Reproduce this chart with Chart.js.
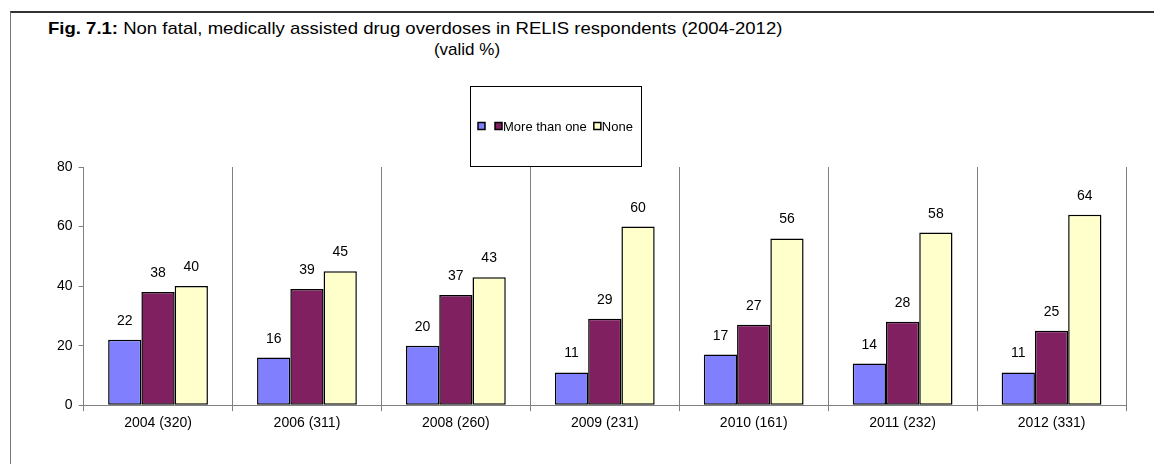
<!DOCTYPE html>
<html>
<head>
<meta charset="utf-8">
<script src="https://cdn.jsdelivr.net/npm/chart.js@4/dist/chart.umd.min.js"></script>
<style>
  html, body { margin: 0; padding: 0; background: #fff; }
  #wrap { position: relative; width: 1154px; height: 464px; overflow: hidden; font-family: Arial, "Liberation Sans", sans-serif; color: #000; }
  #frame { position: absolute; left: 10px; top: 11px; width: 1200px; height: 500px; border-top: 2px solid #333; border-left: 1px solid #777; }
  #t1 { position: absolute; left: 48px; top: 19px; font-size: 17px; white-space: nowrap; transform: scaleX(1.09); transform-origin: left top; }
  #t2 { position: absolute; left: 0; width: 934px; top: 40px; font-size: 17px; text-align: center; }
  #c { position: absolute; left: 0; top: 0; }
</style>
</head>
<body>
<div id="wrap">
  <div id="frame"></div>
  <div id="t1"><b>Fig. 7.1:</b> Non fatal, medically assisted drug overdoses in RELIS respondents (2004-2012)</div>
  <div id="t2">(valid %)</div>
  <canvas id="c" width="1154" height="464"></canvas>
</div>
<script>
const categories = ['2004 (320)', '2006 (311)', '2008 (260)', '2009 (231)', '2010 (161)', '2011 (232)', '2012 (331)'];
const seriesNames = ['', 'More than one', 'None'];
const oneOverdose = [22, 16, 20, 11, 17, 14, 11];
const moreThanOne = [38, 39, 37, 29, 27, 28, 25];
const none = [40, 45, 43, 60, 56, 58, 64];
const yTicks = [0, 20, 40, 60, 80];

const colors = ['#8080FF', '#802060', '#FFFFCC'];
const font = 'Arial, "Liberation Sans", sans-serif';

// value labels above each bar
const valueLabels = {
  id: 'valueLabels',
  afterDatasetsDraw(chart) {
    const ctx = chart.ctx;
    ctx.save();
    ctx.font = '14px ' + font;
    ctx.fillStyle = '#000';
    ctx.textAlign = 'center';
    ctx.textBaseline = 'alphabetic';
    chart.data.datasets.forEach((ds, i) => {
      chart.getDatasetMeta(i).data.forEach((bar, j) => {
        ctx.fillText(ds.data[j], bar.x, bar.y - 15);
      });
    });
    ctx.restore();
  }
};

// boxed legend like the original
const boxLegend = {
  id: 'boxLegend',
  afterDraw(chart) {
    const ctx = chart.ctx;
    ctx.save();
    ctx.strokeStyle = '#000';
    ctx.lineWidth = 1;
    ctx.strokeRect(470.5, 86.5, 171, 80);
    ctx.font = '13px ' + font;
    ctx.textBaseline = 'middle';
    ctx.fillStyle = '#000';
    let x = 478;
    const y = 126;
    chart.data.datasets.forEach((ds, i) => {
      ctx.fillStyle = ds.backgroundColor;
      ctx.fillRect(x, y - 3.5, 7, 7);
      ctx.lineWidth = 1.5;
      ctx.strokeRect(x, y - 3.5, 7, 7);
      x += 8;
      ctx.fillStyle = '#000';
      if (ds.label) {
        ctx.fillText(ds.label, x, y + 1);
        x += ctx.measureText(ds.label).width + 7;
      } else {
        x += 9;
      }
    });
    ctx.restore();
  }
};

const makeSet = (i, data) => ({
  label: seriesNames[i],
  data: data,
  backgroundColor: colors[i],
  borderColor: '#000',
  borderWidth: 1.5,
  borderSkipped: false,
  categoryPercentage: 0.67,
  barPercentage: 1.0
});

new Chart(document.getElementById('c'), {
  type: 'bar',
  data: {
    labels: categories,
    datasets: [makeSet(0, oneOverdose), makeSet(1, moreThanOne), makeSet(2, none)]
  },
  options: {
    responsive: false,
    animation: false,
    layout: { padding: { left: 51, right: 28, top: 167, bottom: 28 } },
    plugins: { legend: { display: false }, tooltip: { enabled: false } },
    scales: {
      x: {
        grid: { offset: true, color: '#808080', lineWidth: 1, tickLength: 6 },
        border: { color: '#808080' },
        ticks: { color: '#000', font: { size: 14, family: font }, padding: 4 }
      },
      y: {
        min: 0,
        max: 80,
        afterBuildTicks: (axis) => { axis.ticks = yTicks.map(v => ({ value: v })); },
        grid: { drawOnChartArea: false, color: '#808080', tickLength: 5 },
        border: { color: '#808080' },
        ticks: { color: '#000', font: { size: 14, family: font }, padding: 6 }
      }
    }
  },
  plugins: [valueLabels, boxLegend]
});
</script>
</body>
</html>
